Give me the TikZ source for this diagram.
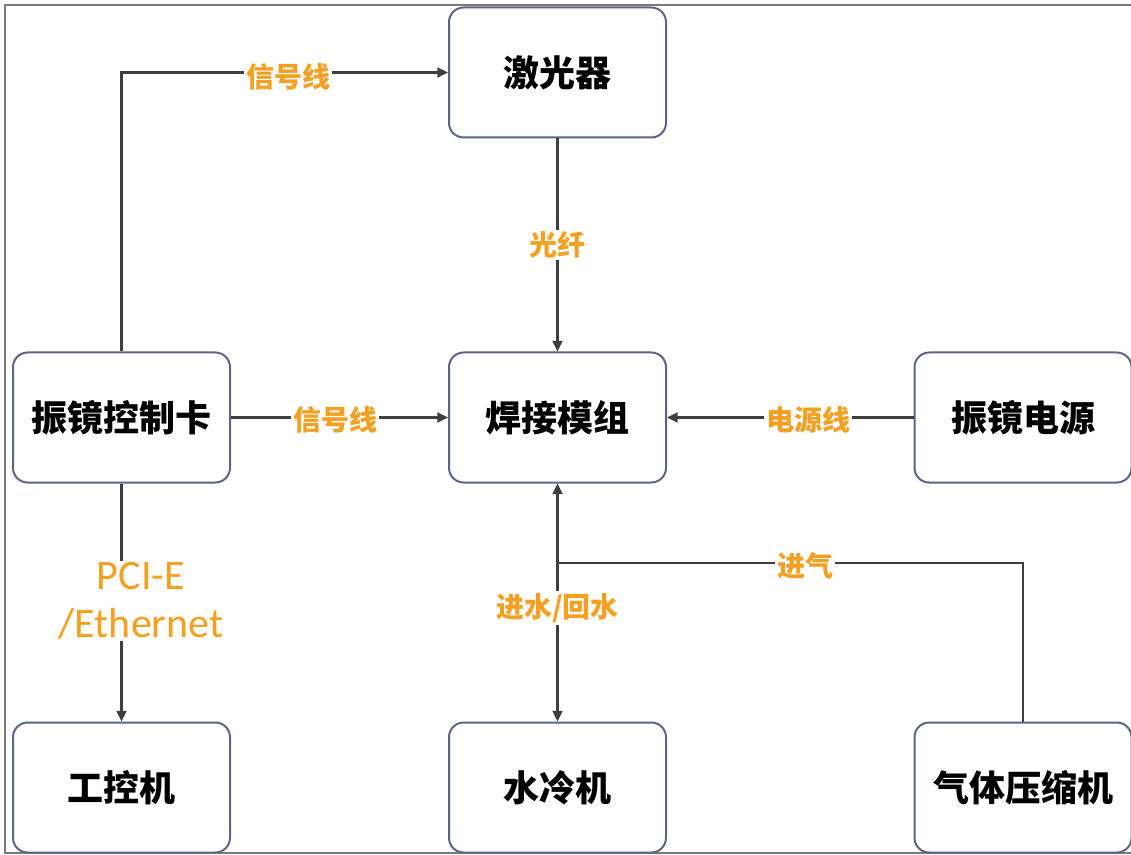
\documentclass[tikz,border=0pt]{standalone}
\usepackage{fontspec}
\setmainfont{Carlito}
\newfontfamily\cjk{Noto Sans CJK SC}
\usetikzlibrary{arrows.meta}
\definecolor{boxline}{HTML}{5E6486}
\definecolor{conncol}{HTML}{3F3F3F}
\definecolor{lblcol}{HTML}{F5A021}
\definecolor{framecol}{HTML}{7A7A7A}
\tikzset{
  box/.style={draw=boxline, line width=1.5pt, rounded corners=11pt, minimum width=162.75pt, minimum height=97.5pt, inner sep=0pt, fill=white, font=\cjk\bfseries\fontsize{27}{30}\selectfont, text=black},
  conn/.style={draw=conncol, line width=1.6pt, -{Triangle[length=8pt,width=7.5pt]}},
  plain/.style={draw=conncol, line width=1.6pt},
  lbl/.style={fill=white, inner sep=1.5pt, text=lblcol, font=\cjk\bfseries\fontsize{21}{24}\selectfont},
  lbllat/.style={fill=white, inner sep=1pt, text=lblcol, align=center, font=\fontsize{31.5}{36}\selectfont}
}
\begin{document}
\begin{tikzpicture}[x=0.75pt, y=-0.75pt]
\useasboundingbox (0,0) rectangle (1131,855);
\draw[framecol, line width=1.2pt] (1131,5) -- (5,5) -- (5,853) -- (1131,853);
\node[box] (laser) at (557.5,72.5) {激光器};
\node[box] (ctrl) at (121.5,417.5) {振镜控制卡};
\node[box] (weld) at (557.5,417.5) {焊接模组};
\node[box] (power) at (1023,417.5) {振镜电源};
\node[box] (ipc) at (121.5,787.5) {工控机};
\node[box] (water) at (557.5,787.5) {水冷机};
\node[box] (gas) at (1023,787.5) {气体压缩机};
\coordinate (j) at (557.5,563);
\draw[conn] (ctrl.north) |- (laser.west);
\draw[conn] (laser) -- (weld);
\draw[conn] (ctrl) -- (weld);
\draw[conn] (power) -- (weld);
\draw[conn] (ctrl) -- (ipc);
\draw[conn, {Triangle[length=8pt,width=7.5pt]}-{Triangle[length=8pt,width=7.5pt]}] (water) -- (weld);
\draw[plain] (gas.north) |- (j);
\node[lbl] (l1) at (288,77) {信号线};
\node[lbl] (l2) at (557.5,245) {光纤};
\node[lbl] (l3) at (335,420) {信号线};
\node[lbl] (l4) at (808,420) {电源线};
\node[lbl] (l5) at (805,566) {进气};
\node[lbl] (l6) at (557.5,608) {进水/回水};
\node[lbllat] (l7) at (141,601) {PCI-E\\/Ethernet};
\end{tikzpicture}
\end{document}
